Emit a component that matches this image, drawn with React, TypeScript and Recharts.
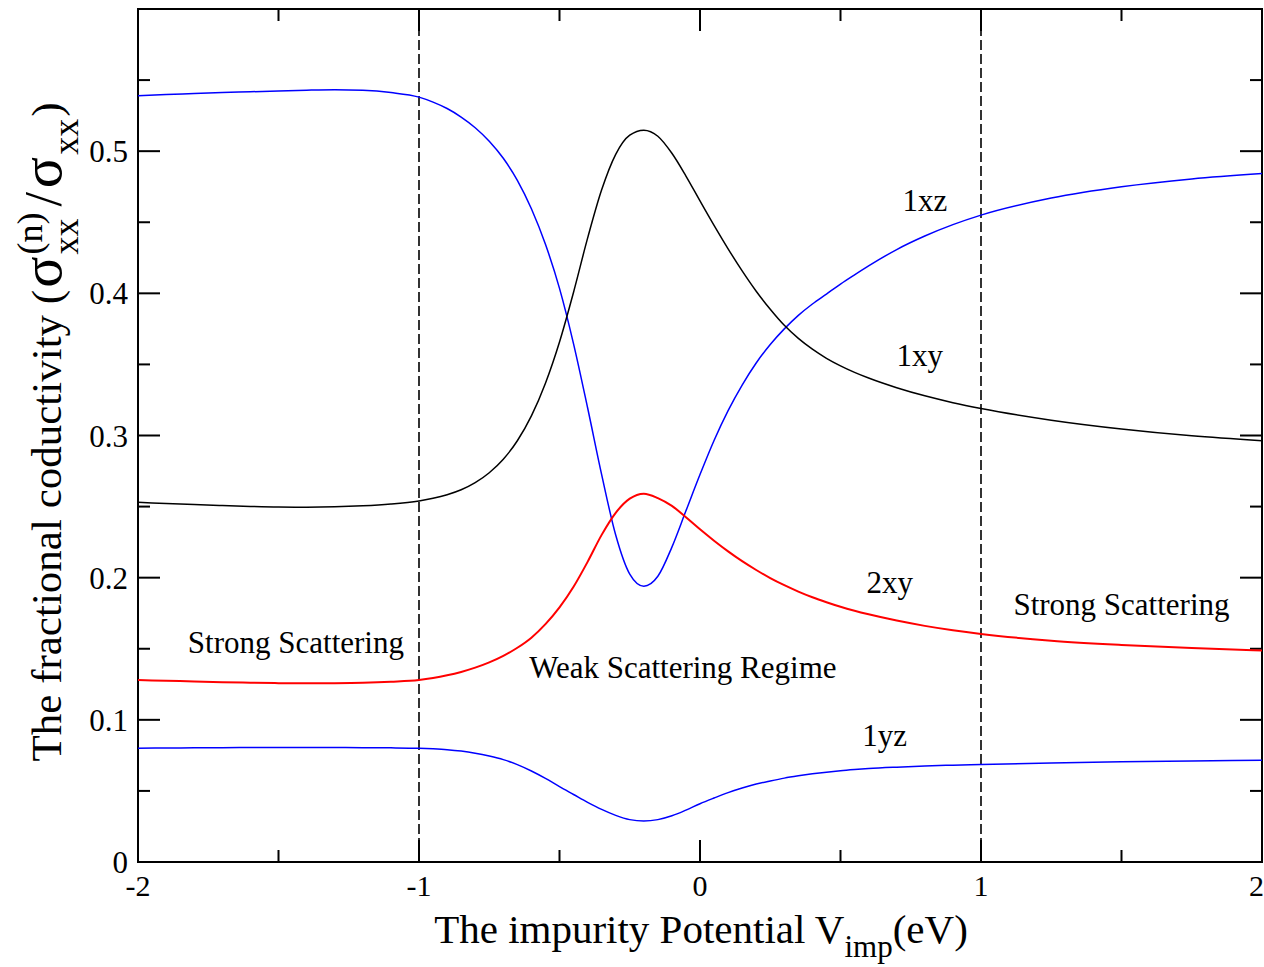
import React from 'react';
import { LineChart, Line, XAxis, YAxis, ReferenceLine, ReferenceArea, ReferenceDot } from 'recharts';

// ---- data ----
const V_IMP = [-2, -1.9, -1.8, -1.7, -1.6, -1.5, -1.4, -1.3, -1.2, -1.1, -1,
  -0.95, -0.9, -0.85, -0.8, -0.75, -0.7, -0.65, -0.6, -0.55, -0.5,
  -0.45, -0.4, -0.35, -0.3, -0.25, -0.2, -0.15, -0.1, -0.05, 0,
  0.05, 0.1, 0.15, 0.2, 0.25, 0.3, 0.35, 0.4, 0.45, 0.5,
  0.55, 0.6,
  0.7, 0.8, 0.9, 1,
  1.25, 1.5, 1.75, 2];
const S_1XZ = [0.539, 0.5398, 0.5405, 0.5412, 0.5418, 0.5424, 0.5429, 0.5432, 0.5428, 0.5412, 0.538,
  0.5345, 0.530, 0.524, 0.5165, 0.507, 0.495, 0.4795, 0.4595, 0.4345, 0.4035,
  0.3645, 0.3195, 0.2725, 0.230, 0.2025, 0.194, 0.201, 0.2215, 0.247, 0.2725,
  0.2965, 0.3175, 0.3355, 0.351, 0.364, 0.375, 0.3845, 0.3925, 0.3995, 0.4065,
  0.413, 0.4193,
  0.4308, 0.4403, 0.4483, 0.455,
  0.467, 0.475, 0.4805, 0.4843];
const S_1XY = [0.253, 0.2522, 0.2514, 0.2507, 0.2501, 0.2497, 0.2496, 0.2498, 0.2505, 0.2518, 0.254,
  0.2558, 0.2583, 0.2618, 0.2668, 0.2738, 0.2833, 0.2963, 0.3138, 0.3368, 0.3658,
  0.4008, 0.4388, 0.4728, 0.4978, 0.5113, 0.5148, 0.5105, 0.4985, 0.4825, 0.465,
  0.4478, 0.4313, 0.4158, 0.4015, 0.3888, 0.3775, 0.3683, 0.3607, 0.3543, 0.349,
  0.3444, 0.3404,
  0.3336, 0.3279, 0.3231, 0.319,
  0.3108, 0.3046, 0.2998, 0.2963];
const S_2XY = [0.128, 0.1275, 0.127, 0.1265, 0.1261, 0.1258, 0.1257, 0.1258, 0.1261, 0.1268, 0.128,
  0.1294, 0.1313, 0.1337, 0.1367, 0.1404, 0.145, 0.1507, 0.1578, 0.1673, 0.1791,
  0.1936, 0.2111, 0.2301, 0.2456, 0.2556, 0.2591, 0.256, 0.2505, 0.2425, 0.234,
  0.226, 0.2185, 0.2116, 0.2054, 0.1997, 0.1947, 0.1902, 0.1862, 0.1827, 0.1795,
  0.1767, 0.1742,
  0.1698, 0.1661, 0.163, 0.1604,
  0.1557, 0.1527, 0.1505, 0.1488];
const S_1YZ = [0.080, 0.0802, 0.0803, 0.0804, 0.0805, 0.0805, 0.0805, 0.0805, 0.0804, 0.0803, 0.080,
  0.0796, 0.079, 0.078, 0.0765, 0.0745, 0.072, 0.0685, 0.064, 0.0588, 0.053,
  0.0475, 0.042, 0.037, 0.0328, 0.0298, 0.0288, 0.0298, 0.0325, 0.0365, 0.041,
  0.045, 0.0488, 0.052, 0.0548, 0.057, 0.059, 0.0606, 0.062, 0.0632, 0.0642,
  0.065, 0.0657,
  0.0667, 0.0675, 0.0681, 0.0686,
  0.0697, 0.0705, 0.0711, 0.0716];

const X_TICKS = [-2, -1, 0, 1, 2];
const Y_TICKS = [0, 0.1, 0.2, 0.3, 0.4, 0.5];
const X_MAJOR = [-1, 0, 1];
const X_MINOR = [-1.5, -0.5, 0.5, 1.5];
const Y_MAJOR = [0.1, 0.2, 0.3, 0.4, 0.5];
const Y_MINOR = [0.05, 0.15, 0.25, 0.35, 0.45, 0.55];
const REGIME_BOUNDS = [-1, 1];

const LABEL_TEXT = ['1xz', '1xy', '2xy', '1yz', 'Strong Scattering', 'Weak Scattering Regime', 'Strong Scattering'];
const LABEL_X = [0.8, 0.782, 0.675, 0.657, -1.438, -0.061, 1.5];
const LABEL_Y = [0.4655, 0.3565, 0.197, 0.0893, 0.1547, 0.137, 0.1814];

const rows = V_IMP.map((x, i) => ({ x, a: S_1XZ[i], b: S_1XY[i], c: S_2XY[i], d: S_1YZ[i] }));

const FONT = '"Liberation Serif", "Times New Roman", serif';
const X_DOMAIN: [number, number] = [-2, 2];
const Y_DOMAIN: [number, number] = [0, 0.6];
const PLOT_W = 1124;
const PLOT_H = 853;
const MAJOR_PX = 22;
const MINOR_PX = 12;
const dxPx = (px: number) => (px * (X_DOMAIN[1] - X_DOMAIN[0])) / PLOT_W;
const dyPx = (px: number) => (px * (Y_DOMAIN[1] - Y_DOMAIN[0])) / PLOT_H;

const XTitle = () => (
  <text x={701} y={943} textAnchor="middle" fontFamily={FONT} fontSize={41} fill="#000">
    The impurity Potential V
    <tspan dy={14} fontSize={31}>imp</tspan>
    <tspan dy={-14}>(eV)</tspan>
  </text>
);

const YTitle = () => (
  <text transform="rotate(-90)" x={-432} y={61} textAnchor="middle" fontFamily={FONT} fontSize={43} fill="#000">
    The fractional coductivity (
    <tspan dx={2} fontSize={58}>σ</tspan>
    <tspan dx={2} dy={-19} fontSize={36}>(n)</tspan>
    <tspan dx={-42} dy={36} fontSize={36}>xx</tspan>
    <tspan dx={12} dy={-17} fontSize={52}>/</tspan>
    <tspan dx={4} fontSize={58}>σ</tspan>
    <tspan dx={2} dy={17} fontSize={36}>xx</tspan>
    <tspan dx={2} dy={-17}>)</tspan>
  </text>
);

export default function App() {
  const tickSegs: any[] = [];
  X_MAJOR.concat(X_MINOR).forEach((v) => {
    const len = dyPx(X_MAJOR.includes(v) ? MAJOR_PX : MINOR_PX);
    tickSegs.push([{ x: v, y: Y_DOMAIN[0] }, { x: v, y: Y_DOMAIN[0] + len }]);
    tickSegs.push([{ x: v, y: Y_DOMAIN[1] }, { x: v, y: Y_DOMAIN[1] - len }]);
  });
  Y_MAJOR.concat(Y_MINOR).forEach((v) => {
    const len = dxPx(Y_MAJOR.includes(v) ? MAJOR_PX : MINOR_PX);
    tickSegs.push([{ x: X_DOMAIN[0], y: v }, { x: X_DOMAIN[0] + len, y: v }]);
    tickSegs.push([{ x: X_DOMAIN[1], y: v }, { x: X_DOMAIN[1] - len, y: v }]);
  });

  return (
    <div style={{ position: 'absolute', left: 0, top: 0, width: 1264, height: 967, background: '#fff' }}>
      <LineChart width={1264} height={967} data={rows} margin={{ top: 9, right: 2, left: 0, bottom: 0 }}>
        <XAxis
          dataKey="x"
          type="number"
          domain={X_DOMAIN}
          ticks={X_TICKS}
          allowDataOverflow
          height={105}
          axisLine={false}
          tickLine={false}
          tickSize={0}
          tickMargin={13}
          tick={{ fontSize: 30, fontFamily: FONT, fill: '#000' }}
          label={{ content: () => <XTitle /> }}
        />
        <YAxis
          type="number"
          domain={Y_DOMAIN}
          ticks={Y_TICKS}
          allowDataOverflow
          width={138}
          axisLine={false}
          tickLine={false}
          tickSize={0}
          tickMargin={10}
          tick={{ fontSize: 31, fontFamily: FONT, fill: '#000' }}
          tickFormatter={(v: number) => (v === 0 ? '0' : String(v))}
          label={{ content: () => <YTitle /> }}
        />
        <ReferenceArea x1={X_DOMAIN[0]} x2={X_DOMAIN[1]} y1={Y_DOMAIN[0]} y2={Y_DOMAIN[1]} fill="none" stroke="#000" strokeWidth={2} ifOverflow="visible" />
        {tickSegs.map((s, i) => (
          <ReferenceLine key={'t' + i} segment={s} stroke="#000" strokeWidth={2} ifOverflow="visible" />
        ))}
        {REGIME_BOUNDS.map((v) => (
          <ReferenceLine key={'r' + v} x={v} stroke="#000" strokeWidth={1.6} strokeDasharray="10 4" />
        ))}
        <Line dataKey="a" type="monotone" stroke="#0000ff" strokeWidth={1.5} dot={false} isAnimationActive={false} />
        <Line dataKey="b" type="monotone" stroke="#000000" strokeWidth={1.5} dot={false} isAnimationActive={false} />
        <Line dataKey="c" type="monotone" stroke="#ff0000" strokeWidth={2} dot={false} isAnimationActive={false} />
        <Line dataKey="d" type="monotone" stroke="#0000ff" strokeWidth={1.5} dot={false} isAnimationActive={false} />
        {LABEL_TEXT.map((t, i) => (
          <ReferenceDot
            key={'l' + i}
            x={LABEL_X[i]}
            y={LABEL_Y[i]}
            r={0}
            fill="none"
            stroke="none"
            label={{ value: t, position: 'center', fontSize: 31, fontFamily: FONT, fill: '#000' }}
          />
        ))}
      </LineChart>
    </div>
  );
}
